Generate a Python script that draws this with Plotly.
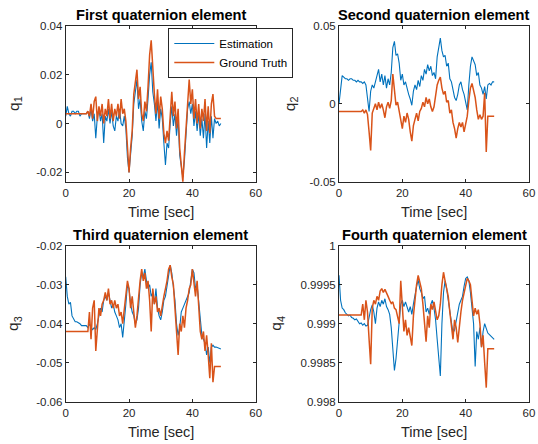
import plotly.graph_objects as go

# ---------------- data ----------------
time_s = [0, 0.5, 1, 1.5, 2, 2.5, 3, 3.5, 4, 4.5,
          5, 5.5, 6, 6.5, 7, 7.5, 8, 8.5, 9, 9.5,
          10, 10.5, 11, 11.5, 12, 12.5, 13, 13.5, 14, 14.5,
          15, 15.5, 16, 16.5, 17, 17.5, 18, 18.5, 19, 19.5,
          20, 20.5, 21, 21.5, 22, 22.5, 23, 23.5, 24, 24.5,
          25, 25.5, 26, 26.5, 27, 27.5, 28, 28.5, 29, 29.5,
          30, 30.5, 31, 31.5, 32, 32.5, 33, 33.5, 34, 34.5,
          35, 35.5, 36, 36.5, 37, 37.5, 38, 38.5, 39, 39.5,
          40, 40.5, 41, 41.5, 42, 42.5, 43, 43.5, 44, 44.5,
          45, 45.5, 46, 46.5, 47, 47.5, 48, 48.5, 49]

q1_est = [0.003, 0.007, 0.004, 0.003, 0.005, 0.005, 0.004, 0.005, 0.005, 0.003,
          0.004, 0.004, 0.004, 0.004, 0.005, 0.002, 0.006, 0.001, 0.004, -0.006,
          0.003, 0.006, 0.001, 0.004, -0.008, 0.003, 0.001, 0.006, 0.000, 0.005,
          -0.001, -0.003, 0.003, 0.001, 0.006, 0.000, -0.001, 0.003, -0.002, -0.014,
          -0.020, -0.012, -0.005, 0.008, 0.014, 0.018, 0.006, 0.010, 0.001, -0.003,
          0.005, 0.002, 0.010, 0.020, 0.025, 0.013, 0.008, 0.001, 0.009, -0.002,
          0.006, 0.002, -0.008, -0.017, -0.008, -0.010, 0.000, 0.007, -0.001, 0.004,
          -0.005, 0.002, -0.013, -0.018, -0.022, -0.015, -0.004, 0.006, 0.009, 0.004,
          0.008, -0.001, 0.005, -0.003, 0.004, -0.005, 0.002, -0.006, 0.004, -0.010,
          0.001, -0.008, 0.003, -0.006, 0.002, 0.000, 0.001, -0.001, 0.000]
q1_gt = [0.004, 0.004, 0.004, 0.004, 0.004, 0.004, 0.004, 0.004, 0.004, 0.004,
         0.004, 0.004, 0.004, 0.004, 0.005, 0.003, 0.008, 0.002, 0.009, 0.011,
         0.001, 0.007, 0.003, 0.008, 0.000, 0.006, 0.003, 0.010, 0.002, 0.008,
         0.001, 0.006, 0.003, 0.008, 0.002, 0.010, 0.004, 0.006, 0.001, -0.012,
         -0.020, -0.010, -0.003, 0.012, 0.018, 0.022, 0.010, 0.015, 0.004, 0.001,
         0.009, 0.005, 0.015, 0.028, 0.034, 0.020, 0.012, 0.004, 0.014, 0.002,
         0.011, 0.006, -0.004, -0.008, -0.003, -0.007, 0.004, 0.013, 0.003, 0.009,
         -0.002, 0.006, -0.010, -0.016, -0.024, -0.012, -0.002, 0.010, 0.018, 0.008,
         0.014, 0.002, 0.010, 0.000, 0.008, -0.002, 0.006, 0.001, 0.010, -0.003,
         0.007, -0.004, 0.008, 0.012, 0.003, 0.002, 0.002, 0.002, 0.002]

q2_est = [0.000, 0.010, 0.018, 0.017, 0.016, 0.016, 0.015, 0.016, 0.016, 0.015,
          0.015, 0.014, 0.015, 0.014, 0.014, 0.013, 0.014, 0.012, 0.005, -0.005,
          0.008, 0.012, 0.010, 0.014, 0.018, 0.022, 0.014, 0.019, 0.012, 0.018,
          0.010, 0.016, 0.012, 0.020, 0.036, 0.040, 0.031, 0.032, 0.026, 0.015,
          0.019, 0.012, 0.014, 0.009, 0.006, 0.003, -0.001, 0.008, 0.012, 0.009,
          0.015, 0.011, 0.018, 0.015, 0.022, 0.019, 0.025, 0.021, 0.024, 0.018,
          0.020, 0.016, 0.030, 0.036, 0.042, 0.034, 0.030, 0.031, 0.024, 0.026,
          0.016, 0.014, 0.008, 0.004, 0.002, 0.006, 0.012, 0.014, 0.009, 0.006,
          0.001, -0.004, 0.012, 0.024, 0.030, 0.028, 0.025, 0.018, 0.020, 0.012,
          0.010, 0.006, 0.011, 0.003, 0.012, 0.013, 0.012, 0.014, 0.014]
q2_gt = [-0.005, -0.005, -0.005, -0.005, -0.005, -0.005, -0.005, -0.005, -0.005, -0.005,
         -0.005, -0.005, -0.005, -0.005, -0.005, -0.004, -0.006, -0.004, -0.007, -0.018,
         -0.030, -0.006, -0.003, 0.000, -0.004, 0.001, -0.003, 0.000, -0.004, -0.009,
         -0.002, 0.001, -0.003, 0.002, 0.019, 0.006, -0.001, 0.001, -0.004, -0.010,
         -0.016, -0.008, -0.012, -0.006, -0.010, -0.018, -0.024, -0.014, -0.010, -0.006,
         -0.011, -0.005, -0.003, 0.001, -0.002, 0.004, 0.000, 0.003, -0.002, -0.005,
         -0.002, 0.004, 0.012, 0.015, 0.017, 0.010, 0.006, 0.008, 0.001, 0.002,
         -0.006, -0.004, -0.012, -0.016, -0.022, -0.016, -0.012, -0.015, -0.012, -0.018,
         -0.012, -0.008, 0.002, 0.010, 0.013, 0.008, 0.004, -0.004, -0.010, -0.007,
         -0.010, -0.008, 0.007, -0.031, -0.008, -0.008, -0.008, -0.008, -0.008]

q3_est = [-0.028, -0.033, -0.035, -0.0345, -0.038, -0.039, -0.0395, -0.0395, -0.0397, -0.040,
          -0.0405, -0.0405, -0.0405, -0.0405, -0.041, -0.040, -0.041, -0.0415, -0.041, -0.0415,
          -0.040, -0.038, -0.036, -0.037, -0.034, -0.033, -0.034, -0.032, -0.034, -0.036,
          -0.035, -0.037, -0.038, -0.039, -0.041, -0.040, -0.0435, -0.038, -0.035, -0.030,
          -0.031, -0.035, -0.037, -0.038, -0.040, -0.039, -0.036, -0.030, -0.027, -0.028,
          -0.026, -0.029, -0.031, -0.030, -0.033, -0.032, -0.035, -0.031, -0.036, -0.038,
          -0.039, -0.037, -0.034, -0.033, -0.030, -0.027, -0.025, -0.027, -0.031, -0.034,
          -0.040, -0.043, -0.041, -0.037, -0.036, -0.035, -0.034, -0.033, -0.032, -0.029,
          -0.026, -0.027, -0.031, -0.030, -0.035, -0.040, -0.043, -0.044, -0.045, -0.048,
          -0.046, -0.050, -0.046, -0.0455, -0.046, -0.046, -0.0462, -0.0465, -0.0465]
q3_gt = [-0.042, -0.042, -0.042, -0.042, -0.042, -0.042, -0.042, -0.042, -0.042, -0.042,
         -0.042, -0.042, -0.042, -0.042, -0.042, -0.037, -0.044, -0.036, -0.034, -0.047,
         -0.040, -0.036, -0.038, -0.035, -0.034, -0.032, -0.034, -0.031, -0.035, -0.034,
         -0.036, -0.034, -0.036, -0.035, -0.038, -0.037, -0.040, -0.036, -0.032, -0.029,
         -0.031, -0.036, -0.033, -0.037, -0.041, -0.038, -0.033, -0.029, -0.026, -0.029,
         -0.027, -0.031, -0.029, -0.034, -0.042, -0.031, -0.035, -0.033, -0.037, -0.036,
         -0.038, -0.035, -0.033, -0.031, -0.029, -0.026, -0.025, -0.028, -0.030, -0.036,
         -0.043, -0.048, -0.040, -0.042, -0.038, -0.041, -0.036, -0.034, -0.031, -0.030,
         -0.026, -0.030, -0.033, -0.029, -0.035, -0.042, -0.044, -0.042, -0.047, -0.043,
         -0.048, -0.054, -0.045, -0.055, -0.051, -0.051, -0.051, -0.051, -0.051]

q4_est = [0.99962, 0.99930, 0.99920, 0.99918, 0.99914, 0.99912, 0.99910, 0.99911, 0.99908, 0.99907,
          0.99905, 0.99906, 0.99902, 0.99900, 0.99901, 0.99898, 0.99900, 0.99897, 0.99898, 0.99910,
          0.99918, 0.99924, 0.99915, 0.99900, 0.99920, 0.99928, 0.99922, 0.99930, 0.99925, 0.99932,
          0.99922, 0.99918, 0.99912, 0.99895, 0.99860, 0.99840, 0.99855, 0.99880, 0.99910, 0.99925,
          0.99930, 0.99922, 0.99928, 0.99920, 0.99915, 0.99922, 0.99912, 0.99925, 0.99938, 0.99948,
          0.99956, 0.99945, 0.99940, 0.99932, 0.99935, 0.99915, 0.99920, 0.99912, 0.99925, 0.99930,
          0.99920, 0.99905, 0.99880, 0.99850, 0.99833, 0.99900, 0.99940, 0.99955, 0.99945, 0.99930,
          0.99915, 0.99900, 0.99888, 0.99892, 0.99905, 0.99918, 0.99925, 0.99930, 0.99935, 0.99948,
          0.99958, 0.99960, 0.99955, 0.99940, 0.99920, 0.99900, 0.99845, 0.99890, 0.99880, 0.99895,
          0.99870, 0.99890, 0.99900, 0.99893, 0.99888, 0.99886, 0.99884, 0.99881, 0.99880]
q4_gt = [0.99911, 0.99911, 0.99911, 0.99911, 0.99911, 0.99911, 0.99911, 0.99911, 0.99911, 0.99911,
         0.99911, 0.99911, 0.99911, 0.99911, 0.99911, 0.99925, 0.99905, 0.99930, 0.99915, 0.99880,
         0.99848, 0.99920, 0.99930, 0.99925, 0.99935, 0.99930, 0.99942, 0.99945, 0.99940, 0.99944,
         0.99938, 0.99935, 0.99930, 0.99926, 0.99928, 0.99920, 0.99918, 0.99910, 0.99900, 0.99955,
         0.99920, 0.99890, 0.99905, 0.99885, 0.99895, 0.99880, 0.99872, 0.99910, 0.99935, 0.99950,
         0.99962, 0.99955, 0.99945, 0.99925, 0.99900, 0.99877, 0.99910, 0.99895, 0.99925, 0.99918,
         0.99928, 0.99915, 0.99905, 0.99910, 0.99925, 0.99950, 0.99966, 0.99955, 0.99945, 0.99935,
         0.99915, 0.99900, 0.99880, 0.99905, 0.99895, 0.99876, 0.99900, 0.99915, 0.99930, 0.99940,
         0.99950, 0.99958, 0.99955, 0.99950, 0.99930, 0.99910, 0.99920, 0.99912, 0.99918, 0.99900,
         0.99870, 0.99885, 0.99850, 0.99818, 0.99868, 0.99868, 0.99868, 0.99868, 0.99868]

panel_titles = ["First quaternion element", "Second quaternion element",
                "Third quaternion element", "Fourth quaternion element"]
y_labels = ["q<sub>1</sub>", "q<sub>2</sub>", "q<sub>3</sub>", "q<sub>4</sub>"]
x_label = "Time [sec]"
series_names = ["Estimation", "Ground Truth"]

x_tick_vals = [0, 20, 40, 60]
x_tick_text = ["0", "20", "40", "60"]
y1_tick_vals = [-0.02, 0, 0.02, 0.04]
y1_tick_text = ["-0.02", "0", "0.02", "0.04"]
y2_tick_vals = [-0.05, 0, 0.05]
y2_tick_text = ["-0.05", "0", "0.05"]
y3_tick_vals = [-0.06, -0.05, -0.04, -0.03, -0.02]
y3_tick_text = ["-0.06", "-0.05", "-0.04", "-0.03", "-0.02"]
y4_tick_vals = [0.998, 0.9985, 0.999, 0.9995, 1.0]
y4_tick_text = ["0.998", "0.9985", "0.999", "0.9995", "1"]

for arr in (q1_est, q1_gt, q2_est, q2_gt, q3_est, q3_gt, q4_est, q4_gt):
    assert len(arr) == len(time_s), len(arr)

# ---------------- styling / layout ----------------
W, H = 538, 444
BLUE = "#0072BD"
ORANGE = "#D95319"
AX = "#262626"
FONT = "Liberation Sans, Arial, Helvetica, sans-serif"


def px(x):
    return x / W


def py(y):
    return 1 - y / H


# pixel boxes of the four axes: (left, right, top, bottom)
boxes = [(65.7, 255.7, 25.7, 181.7), (339.0, 529.0, 25.7, 181.7),
         (65.7, 255.7, 245.7, 401.7), (339.0, 529.0, 245.7, 401.7)]
y_ranges = [[-0.0238, 0.04], [-0.05, 0.05], [-0.06, -0.02], [0.998, 1.0]]
y_ticks = [(y1_tick_vals, y1_tick_text), (y2_tick_vals, y2_tick_text),
           (y3_tick_vals, y3_tick_text), (y4_tick_vals, y4_tick_text)]
ylabel_x = [14.2, 290.5, 14.2, 277.0]
series = [(q1_est, q1_gt), (q2_est, q2_gt), (q3_est, q3_gt), (q4_est, q4_gt)]

fig = go.Figure()
layout = dict(
    width=W, height=H, margin=dict(l=0, r=0, t=0, b=0, autoexpand=False),
    paper_bgcolor="white", plot_bgcolor="white",
    font=dict(family=FONT, color=AX, size=12),
    showlegend=True,
    legend=dict(x=px(168.3), y=py(28), xanchor="left", yanchor="top",
                bgcolor="white", bordercolor=AX, borderwidth=1,
                font=dict(family=FONT, size=11.5, color="black"),
                tracegroupgap=0, itemwidth=40),
)
annotations = []

for k in range(4):
    sfx = "" if k == 0 else str(k + 1)
    l, r, t, b = boxes[k]
    est, gt = series[k]
    fig.add_trace(go.Scatter(x=time_s, y=est, mode="lines", name=series_names[0],
                             line=dict(color=BLUE, width=1.1), showlegend=(k == 0),
                             xaxis="x" + sfx, yaxis="y" + sfx))
    fig.add_trace(go.Scatter(x=time_s, y=gt, mode="lines", name=series_names[1],
                             line=dict(color=ORANGE, width=1.5), showlegend=(k == 0),
                             xaxis="x" + sfx, yaxis="y" + sfx))
    common = dict(showline=True, linecolor=AX, linewidth=1, mirror="allticks",
                  ticks="inside", ticklen=3, tickwidth=1, tickcolor=AX,
                  showgrid=False, zeroline=False, automargin=False,
                  tickfont=dict(family=FONT, size=11.5, color=AX))
    layout["xaxis" + sfx] = dict(domain=[px(l), px(r)], range=[0, 60],
                                 tickvals=x_tick_vals, ticktext=x_tick_text,
                                 anchor="y" + sfx, **common)
    layout["yaxis" + sfx] = dict(domain=[py(b), py(t)], range=y_ranges[k],
                                 tickvals=y_ticks[k][0], ticktext=y_ticks[k][1],
                                 anchor="x" + sfx, **common)
    cx = (l + r) / 2
    annotations.append(dict(text="<b>" + panel_titles[k] + "</b>", x=px(cx), y=py(t - 11),
                            xref="paper", yref="paper", showarrow=False,
                            xanchor="center", yanchor="middle",
                            font=dict(family=FONT, size=14.6, color="black")))
    annotations.append(dict(text=x_label, x=px(cx), y=py(b + 30.5),
                            xref="paper", yref="paper", showarrow=False,
                            xanchor="center", yanchor="middle",
                            font=dict(family=FONT, size=14.5, color=AX)))
    annotations.append(dict(text=y_labels[k], x=px(ylabel_x[k]), y=py((t + b) / 2),
                            xref="paper", yref="paper", showarrow=False,
                            xanchor="center", yanchor="middle", textangle=-90,
                            font=dict(family=FONT, size=15.5, color=AX)))

layout["annotations"] = annotations
fig.update_layout(**layout)
fig.write_html("out.html", config={"displayModeBar": False},
               post_script="document.body.style.margin='0';document.body.style.overflow='hidden';")
